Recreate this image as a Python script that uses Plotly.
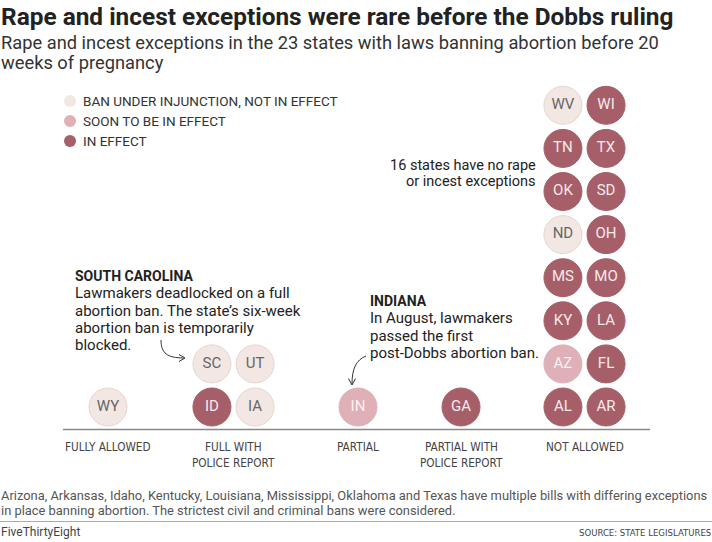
import plotly.graph_objects as go

# bottom axis categories
categories = ["FULLY ALLOWED", "FULL WITH<br>POLICE REPORT", "PARTIAL",
              "PARTIAL WITH<br>POLICE REPORT", "NOT ALLOWED"]

# states in each category, stacked bottom-up, left to right
fully_allowed = ["WY"]
full_police = ["ID", "IA", "SC", "UT"]
partial = ["IN"]
partial_police = ["GA"]
not_allowed = ["AL", "AR", "AZ", "FL", "KY", "LA", "MS", "MO",
               "ND", "OH", "OK", "SD", "TN", "TX", "WV", "WI"]

# status of each ban (0 = under injunction, 1 = soon in effect, 2 = in effect)
fully_allowed_status = [0]
full_police_status = [2, 0, 0, 0]
partial_status = [1]
partial_police_status = [2]
not_allowed_status = [2, 2, 1, 2, 2, 2, 2, 2, 0, 2, 2, 2, 2, 2, 0, 2]

status_labels = ["BAN UNDER INJUNCTION, NOT IN EFFECT", "SOON TO BE IN EFFECT", "IN EFFECT"]

sc_note = ["<b>SOUTH CAROLINA</b>", "Lawmakers deadlocked on a full",
           "abortion ban. The state\u2019s six-week", "abortion ban is temporarily", "blocked."]
in_note = ["<b>INDIANA</b>", "In August, lawmakers", "passed the first",
           "post-Dobbs abortion ban."]

# styling
fills = ["#f3e7e3", "#dfb0b8", "#a65f69"]
borders = ["#e6d5d0", "#dfb0b8", "#a65f69"]
text_cols = ["#666666", "#fbf0f2", "#f7e9eb"]
cat_x = [108, 233.5, 358, 461, 584.5]   # pixel centres of each category
base_y = 407
step = 43.1
BODY = "Roboto, Liberation Sans, Arial"
COND = "DejaVu Sans Condensed, Liberation Sans Narrow, Roboto, Arial"

groups = [(fully_allowed, fully_allowed_status), (full_police, full_police_status),
          (partial, partial_status), (partial_police, partial_police_status),
          (not_allowed, not_allowed_status)]

xs, ys, labels, stat = [], [], [], []
for i, (sts, sv) in enumerate(groups):
    ncol = 1 if len(sts) == 1 else 2
    for j, (s, v) in enumerate(zip(sts, sv)):
        col, row = j % ncol, j // ncol
        off = 0 if ncol == 1 else (col - 0.5) * step
        xs.append(cat_x[i] + off)
        ys.append(base_y - row * step)
        labels.append(s)
        stat.append(v)

fig = go.Figure()

fig.add_trace(go.Scatter(
    x=xs, y=ys, mode="markers+text", text=labels,
    textposition="middle center",
    textfont=dict(family=BODY, size=15, color=[text_cols[v] for v in stat]),
    marker=dict(size=38, color=[fills[v] for v in stat],
                line=dict(width=1, color=[borders[v] for v in stat])),
    hoverinfo="text", showlegend=False))

# legend dots
fig.add_trace(go.Scatter(
    x=[70] * 3, y=[101 + 20 * k for k in range(3)], mode="markers",
    marker=dict(size=12, color=fills, line=dict(width=0)),
    hoverinfo="skip", showlegend=False))

ann = []
for k, lab in enumerate(status_labels):
    ann.append(dict(x=82, y=101 + 20 * k, text=lab, xanchor="left", yanchor="middle",
                    font=dict(family=BODY, size=13.5, color="#333")))

for i, c in enumerate(categories):
    for k, part in enumerate(c.split("<br>")):
        ann.append(dict(x=cat_x[i], y=447 + 16 * k, text=part, xanchor="center", yanchor="middle",
                        font=dict(family=COND, size=11.7, color="#444")))

# title block
ann.append(dict(x=0, y=16, text="<b>Rape and incest exceptions were rare before the Dobbs ruling</b>",
                xanchor="left", yanchor="middle", font=dict(family=BODY, size=24.4, color="#222")))
for k, line in enumerate(["Rape and incest exceptions in the 23 states with laws banning abortion before 20",
                          "weeks of pregnancy"]):
    ann.append(dict(x=0, y=42 + 20 * k, text=line, xanchor="left", yanchor="middle",
                    font=dict(family=BODY, size=18.3, color="#333")))

for k, line in enumerate(["16 states have no rape", "or incest exceptions"]):
    ann.append(dict(x=537, y=165 + 16 * k, text=line, xanchor="right", yanchor="middle",
                    font=dict(family=BODY, size=14.5, color="#222")))

for k, line in enumerate(sc_note):
    ann.append(dict(x=74, y=276 + 17.3 * k, text=line, xanchor="left", yanchor="middle",
                    font=dict(family=BODY, size=15 if k else 14, color="#222")))
for k, line in enumerate(in_note):
    ann.append(dict(x=369, y=301 + 17.3 * k, text=line, xanchor="left", yanchor="middle",
                    font=dict(family=BODY, size=15 if k else 14, color="#222")))

for k, line in enumerate(["Arizona, Arkansas, Idaho, Kentucky, Louisiana, Mississippi, Oklahoma and Texas have multiple bills with differing exceptions",
                          "in place banning abortion. The strictest civil and criminal bans were considered."]):
    ann.append(dict(x=0, y=495 + 15 * k, text=line, xanchor="left", yanchor="middle",
                    font=dict(family=BODY, size=12.9, color="#555")))
ann.append(dict(x=0, y=532, text="FiveThirtyEight", xanchor="left", yanchor="middle",
                font=dict(family=BODY, size=12, color="#444")))
ann.append(dict(x=712, y=532, text="SOURCE: STATE LEGISLATURES", xanchor="right", yanchor="middle",
                font=dict(family=COND, size=9.5, color="#444")))

for a in ann:
    a.update(xref="x", yref="y", showarrow=False, borderpad=0)

shapes = [
    dict(type="line", x0=63, x1=650, y0=429.5, y1=429.5, line=dict(color="#888", width=1.5)),
    dict(type="line", x0=0, x1=712, y0=521.5, y1=521.5, line=dict(color="#aaa", width=1)),
    # curved arrows
    dict(type="path", path="M 161,340 C 161,353 167,358 184,358", line=dict(color="#333", width=1)),
    dict(type="path", path="M 179,354.5 L 185,358 L 179,361.5", line=dict(color="#333", width=1)),
    dict(type="path", path="M 366,356 C 356,360 352,369 352,384", line=dict(color="#333", width=1)),
    dict(type="path", path="M 348.5,378.5 L 352,385 L 355.5,378.5", line=dict(color="#333", width=1)),
]
for s in shapes:
    s.update(xref="x", yref="y", layer="below")

fig.update_layout(
    width=712, height=542, autosize=False,
    margin=dict(l=0, r=0, t=0, b=0),
    paper_bgcolor="white", plot_bgcolor="white",
    xaxis=dict(range=[0, 712], visible=False, fixedrange=True),
    yaxis=dict(range=[542, 0], visible=False, fixedrange=True),
    annotations=ann, shapes=shapes,
)

fig.write_html("out.html", config={"displayModeBar": False},
               post_script="document.body.style.margin='0px';document.body.style.overflow='hidden';")
